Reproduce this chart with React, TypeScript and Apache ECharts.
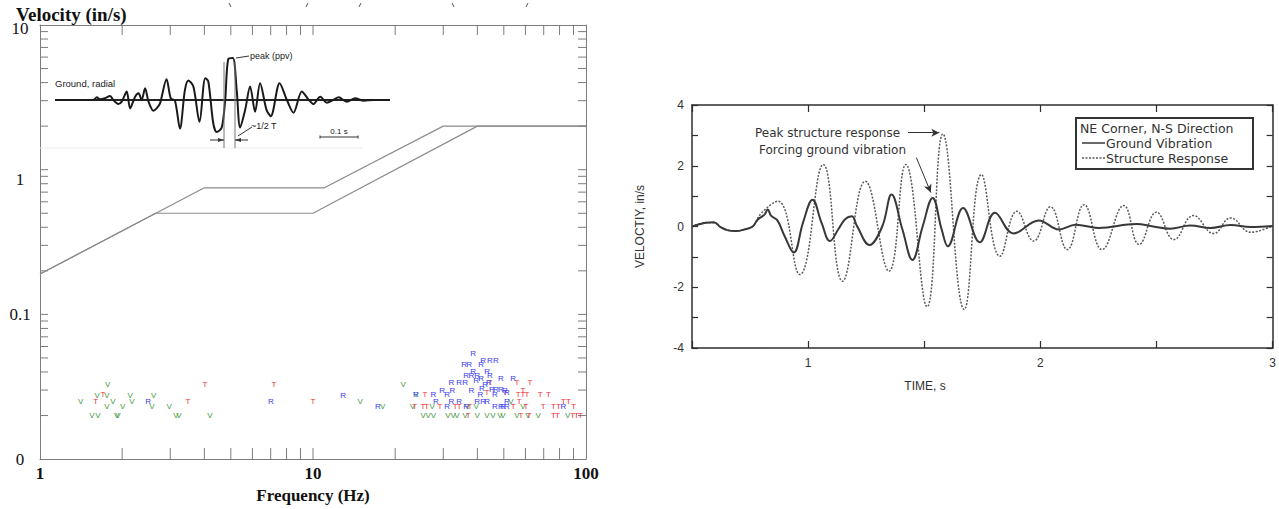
import React, { useEffect, useRef } from 'react';
import * as echarts from 'echarts';

// ---------------- Left chart data ----------------
const xTickValues = [2, 3, 4, 5, 6, 7, 8, 9, 10, 20, 30, 40, 50, 60, 70, 80, 90];
const yTickValues = [
  0.02, 0.03, 0.04, 0.05, 0.06, 0.07, 0.08, 0.09, 0.1,
  0.2, 0.3, 0.4, 0.5, 0.6, 0.7, 0.8, 0.9, 1,
  2, 3, 4, 5, 6, 7, 8, 9,
];
const yTickLabels: Record<string, string> = { '10': '{a|10}', '1': '{b|1}', '0.1': '{c|0.1}', '0.01': '{c|0}' };

const upperCriterion = [[1, 0.19], [4, 0.75], [11, 0.75], [30, 2], [100, 2]];
const lowerCriterion = [[1, 0.19], [2.65, 0.5], [10, 0.5], [40, 2], [100, 2]];

const tPoints = [
  [1.6, 0.025], [1.7, 0.028], [4.02, 0.033], [3.48, 0.025], [7.19, 0.033], [10.0, 0.025],
  [25.7, 0.028], [44.5, 0.034], [55.9, 0.034], [62.3, 0.034], [43.4, 0.029], [50.5, 0.029],
  [58.8, 0.03], [56.4, 0.028], [58.8, 0.028], [60.8, 0.028], [67.9, 0.028], [72.8, 0.028],
  [56.9, 0.025], [82.7, 0.025], [86.3, 0.025], [25.3, 0.023], [26.1, 0.023], [29.2, 0.023],
  [33.2, 0.023], [34.3, 0.023], [37.6, 0.023], [54.1, 0.023], [60.3, 0.023], [69.7, 0.023],
  [76.0, 0.023], [79.3, 0.023], [90.1, 0.023], [37.0, 0.02], [57.8, 0.02], [61.8, 0.02],
  [76.0, 0.02], [78.6, 0.02], [89.3, 0.02], [92.3, 0.02], [95.5, 0.02], [23.6, 0.023],
];
const vPoints = [
  [1.41, 0.025], [1.77, 0.033], [1.62, 0.0275], [1.76, 0.0275], [1.85, 0.025], [1.76, 0.023],
  [1.55, 0.02], [1.63, 0.02], [1.91, 0.02], [1.93, 0.02], [2.01, 0.023], [2.14, 0.0275],
  [2.17, 0.025], [2.57, 0.023], [2.61, 0.0275], [2.97, 0.023], [3.15, 0.02], [3.23, 0.02],
  [4.19, 0.02], [14.9, 0.025], [18.0, 0.023], [21.4, 0.033], [23.8, 0.028], [23.2, 0.023],
  [27.3, 0.023], [36.7, 0.023], [39.6, 0.023], [53.1, 0.025], [58.8, 0.023], [25.3, 0.02],
  [26.4, 0.02], [27.6, 0.02], [31.2, 0.02], [32.6, 0.02], [33.7, 0.02], [36.1, 0.02],
  [39.9, 0.02], [43.4, 0.02], [45.6, 0.02], [48.4, 0.02], [49.6, 0.02], [55.9, 0.02],
  [61.3, 0.02], [66.8, 0.02], [85.6, 0.02],
];
const rPoints = [
  [2.49, 0.025], [7.01, 0.025], [12.9, 0.0275], [17.3, 0.023], [23.8, 0.028],
  [38.6, 0.054], [35.8, 0.045], [37.3, 0.045], [42.0, 0.048], [44.5, 0.048], [46.8, 0.048],
  [41.3, 0.045], [38.6, 0.0406], [43.4, 0.0406], [36.4, 0.038], [38.0, 0.038], [39.9, 0.038],
  [44.5, 0.038], [36.1, 0.034], [41.3, 0.036], [42.7, 0.033], [39.6, 0.035], [32.1, 0.034],
  [34.3, 0.034], [44.1, 0.034], [48.8, 0.036], [54.1, 0.036], [29.7, 0.03], [32.4, 0.03],
  [38.0, 0.03], [41.6, 0.031], [45.2, 0.0305], [46.8, 0.0305], [48.8, 0.0305], [50.5, 0.03],
  [31.0, 0.028], [27.6, 0.028], [41.0, 0.028], [46.4, 0.028], [51.3, 0.029], [28.2, 0.025],
  [32.1, 0.025], [34.3, 0.025], [39.9, 0.025], [42.0, 0.025], [43.4, 0.025], [51.3, 0.025],
  [31.0, 0.023], [36.4, 0.023], [46.4, 0.023], [48.8, 0.023], [49.6, 0.023], [51.3, 0.023],
  [82.7, 0.023],
];

// inset waveform (time in ms, amplitude relative to peak)
const insetTime = [0, 100, 109, 117, 130, 144, 152, 165, 174, 187, 196, 209, 218, 226, 235, 244, 257, 265, 274, 291, 302, 313, 326, 339, 348, 361, 377, 392, 400, 413, 422, 435, 444, 452, 464, 474, 483, 496, 509, 522, 535, 552, 563, 586, 605, 622, 644, 661, 674, 692, 709, 726, 740, 761, 783, 805, 831, 874];
const insetAmp = [0, 0, 0.064, 0.016, 0.04, 0.096, 0, -0.096, -0.04, 0.2, -0.2, 0.08, 0.16, 0, 0.28, -0.04, -0.256, -0.2, -0.08, 0.496, 0.04, -0.016, -0.68, 0.24, 0.464, 0.32, -0.52, 0.52, 0.44, -0.56, -0.76, -0.656, 0, 0.976, 1.0, 0.24, -0.656, -0.24, 0.32, -0.28, 0.4, -0.24, -0.384, 0.4, 0, -0.304, 0.2, 0.016, -0.096, 0.08, -0.064, 0, 0.064, -0.04, 0.04, -0.016, 0, 0];

// ---------------- Right chart data ----------------
const groundTime = [0.5, 0.558, 0.594, 0.623, 0.652, 0.688, 0.725, 0.761, 0.783, 0.812, 0.826, 0.841, 0.867, 0.899, 0.938, 0.978, 1.019, 1.058, 1.094, 1.13, 1.159, 1.188, 1.21, 1.264, 1.319, 1.359, 1.406, 1.449, 1.493, 1.536, 1.575, 1.601, 1.667, 1.739, 1.804, 1.884, 1.993, 2.08, 2.152, 2.25, 2.413, 2.486, 2.558, 2.645, 2.732, 2.819, 2.906, 3.0];
const groundVel = [0, 0.12, 0.14, -0.02, -0.12, -0.15, -0.1, 0, 0.23, 0.39, 0.56, 0.35, 0.21, -0.32, -0.86, 0.13, 0.88, 0.12, -0.48, -0.09, 0.24, 0.34, 0.02, -0.61, 0, 1.05, -0.1, -1.1, 0, 0.94, -0.1, -0.65, 0.61, -0.52, 0.45, -0.23, 0.2, -0.1, 0.06, -0.05, 0.08, 0, -0.07, 0.03, -0.05, 0.05, -0.02, 0.02];

const structTime = [0.5, 0.558, 0.594, 0.623, 0.652, 0.688, 0.725, 0.761, 0.8, 0.87, 0.964, 1.065, 1.148, 1.246, 1.348, 1.42, 1.512, 1.58, 1.672, 1.746, 1.826, 1.899, 1.971, 2.043, 2.116, 2.188, 2.265, 2.359, 2.425, 2.5, 2.575, 2.659, 2.746, 2.819, 2.906, 3.0];
const structVel = [0, 0.12, 0.12, -0.02, -0.12, -0.15, -0.1, 0, 0.45, 0.83, -1.58, 2.04, -1.8, 1.49, -1.47, 2.04, -2.64, 3.05, -2.73, 1.71, -0.98, 0.5, -0.48, 0.65, -0.76, 0.72, -0.76, 0.69, -0.59, 0.47, -0.43, 0.36, -0.23, 0.28, -0.19, 0.03];

const serif = '"Liberation Serif", "Times New Roman", serif';
const sans = '"Liberation Sans", Arial, Helvetica, sans-serif';
const wideSans = '"DejaVu Sans", Verdana, sans-serif';
const axisGray = '#7c7c7c';
const darkAxis = '#2e2e2e';

function letterSeries(pts: number[][], letter: string, color: string) {
  return {
    type: 'custom',
    xAxisIndex: 0,
    yAxisIndex: 0,
    data: pts,
    silent: true,
    z: 5,
    renderItem: (params: any, api: any) => {
      const p = api.coord([api.value(0), api.value(1)]);
      return {
        type: 'text',
        x: p[0],
        y: p[1],
        style: {
          text: letter,
          fill: color,
          font: '8px ' + sans,
          align: 'center',
          verticalAlign: 'middle',
        },
      };
    },
  };
}

function buildOption() {
  const zip = (a: number[], b: number[]) => a.map((v, i) => [v, b[i]]);
  const labelBase = { fontFamily: serif, fontSize: 17, color: '#111' };
  return {
    animation: false,
    backgroundColor: '#ffffff',
    title: {
      text: 'Velocity (in/s)',
      left: 11,
      top: 0,
      textStyle: { fontFamily: serif, fontWeight: 'bold', fontSize: 19, color: '#111' },
    },
    grid: [
      { left: 40, top: 25, width: 546, height: 441 },
      { left: 55, top: 58, width: 335, height: 84 },
      { left: 692, top: 105, width: 584, height: 243 },
    ],
    xAxis: [
      {
        gridIndex: 0, type: 'log', logBase: 10, min: 1, max: 100, position: 'bottom',
        axisLine: { lineStyle: { color: axisGray, width: 1 } },
        axisTick: { show: false }, splitLine: { show: false },
        axisLabel: { fontFamily: serif, fontWeight: 'bold', fontSize: 17, color: '#111', margin: 6 },
        name: 'Frequency (Hz)', nameLocation: 'middle', nameGap: 25,
        nameTextStyle: { fontFamily: serif, fontWeight: 'bold', fontSize: 17, color: '#111' },
      },
      {
        gridIndex: 0, type: 'log', logBase: 10, min: 1, max: 100, position: 'top',
        axisLine: { lineStyle: { color: axisGray, width: 1 } },
        axisTick: { show: false }, splitLine: { show: false }, axisLabel: { show: false },
      },
      { gridIndex: 1, type: 'value', min: 0, max: 874, show: false },
      {
        gridIndex: 2, type: 'value', min: 0.5, max: 3, interval: 0.5, position: 'bottom',
        axisLine: { onZero: false, lineStyle: { color: darkAxis, width: 1.5 } },
        axisTick: { inside: true, length: 7, lineStyle: { color: darkAxis, width: 1.2 } },
        splitLine: { show: false },
        axisLabel: {
          fontFamily: sans, fontSize: 12, color: '#333', margin: 9,
          formatter: (v: number) => (Math.abs(v - Math.round(v)) < 1e-6 ? String(Math.round(v)) : ''),
        },
      },
      {
        gridIndex: 2, type: 'value', min: 0.5, max: 3, interval: 0.5, position: 'top',
        axisLine: { onZero: false, lineStyle: { color: darkAxis, width: 1.5 } },
        axisTick: { inside: true, length: 7, lineStyle: { color: darkAxis, width: 1.2 } },
        splitLine: { show: false }, axisLabel: { show: false },
      },
    ],
    yAxis: [
      {
        gridIndex: 0, type: 'log', logBase: 10, min: 0.01, max: 10, position: 'left',
        axisLine: { show: true, lineStyle: { color: axisGray, width: 1 } },
        axisTick: { show: false }, splitLine: { show: false },
        axisLabel: {
          ...labelBase, margin: 20, align: 'center',
          rich: {
            a: { ...labelBase, padding: [6, 0, 0, 0] },
            b: { ...labelBase, padding: [20, 0, 0, 0] },
            c: { ...labelBase },
          },
          formatter: (v: number) => {
            const k = v >= 5 ? '10' : v >= 0.5 ? '1' : v >= 0.05 ? '0.1' : '0.01';
            return yTickLabels[k];
          },
        },
      },
      {
        gridIndex: 0, type: 'log', logBase: 10, min: 0.01, max: 10, position: 'right',
        axisLine: { show: true, lineStyle: { color: axisGray, width: 1 } },
        axisTick: { show: false }, splitLine: { show: false }, axisLabel: { show: false },
      },
      { gridIndex: 1, type: 'value', min: -1, max: 1, show: false },
      {
        gridIndex: 2, type: 'value', min: -4, max: 4, interval: 1, position: 'left',
        axisLine: { show: true, onZero: false, lineStyle: { color: darkAxis, width: 1.5 } },
        axisTick: { inside: true, length: 6, lineStyle: { color: darkAxis, width: 1.2 } },
        splitLine: { show: false },
        axisLabel: {
          fontFamily: sans, fontSize: 12, color: '#333', margin: 8,
          formatter: (v: number) => (Math.round(v) % 2 === 0 ? String(Math.round(v)) : ''),
        },
        name: 'VELOCTIY, in/s', nameLocation: 'middle', nameGap: 46, nameRotate: 90,
        nameTextStyle: { fontFamily: sans, fontSize: 12, color: '#333' },
      },
      {
        gridIndex: 2, type: 'value', min: -4, max: 4, interval: 1, position: 'right',
        axisLine: { show: true, onZero: false, lineStyle: { color: darkAxis, width: 1.5 } },
        axisTick: { inside: true, length: 6, lineStyle: { color: darkAxis, width: 1.2 } },
        splitLine: { show: false }, axisLabel: { show: false },
      },
    ],
    series: [
      {
        type: 'line', xAxisIndex: 0, yAxisIndex: 0, data: upperCriterion, symbol: 'none', silent: true,
        lineStyle: { color: '#8c8c8c', width: 1.2 },
      },
      {
        type: 'line', xAxisIndex: 0, yAxisIndex: 0, data: lowerCriterion, symbol: 'none', silent: true,
        lineStyle: { color: '#8c8c8c', width: 1.2 },
      },
      {
        type: 'custom', xAxisIndex: 0, yAxisIndex: 0, silent: true,
        data: xTickValues.map((v) => [v, 1]),
        renderItem: (params: any, api: any) => {
          const x = api.coord([api.value(0), 1])[0];
          const cs = params.coordSys;
          const st = { stroke: axisGray, lineWidth: 1 };
          return {
            type: 'group',
            children: [
              { type: 'line', shape: { x1: x, y1: cs.y + cs.height, x2: x, y2: cs.y + cs.height - 11 }, style: st },
              { type: 'line', shape: { x1: x, y1: cs.y, x2: x, y2: cs.y + 10 }, style: st },
            ],
          };
        },
      },
      {
        type: 'custom', xAxisIndex: 0, yAxisIndex: 0, silent: true,
        data: yTickValues.map((v) => [10, v]),
        renderItem: (params: any, api: any) => {
          const y = api.coord([10, api.value(1)])[1];
          const cs = params.coordSys;
          const st = { stroke: axisGray, lineWidth: 1 };
          return {
            type: 'group',
            children: [
              { type: 'line', shape: { x1: cs.x, y1: y, x2: cs.x + 8, y2: y }, style: st },
              { type: 'line', shape: { x1: cs.x + cs.width - 8, y1: y, x2: cs.x + cs.width, y2: y }, style: st },
            ],
          };
        },
      },
      letterSeries(vPoints, 'V', '#3f9a3f'),
      letterSeries(tPoints, 'T', '#ee3030'),
      letterSeries(rPoints, 'R', '#3a3af0'),
      {
        type: 'line', xAxisIndex: 2, yAxisIndex: 2, data: [[0, 0], [874, 0]], symbol: 'none', silent: true,
        lineStyle: { color: '#222', width: 2 },
      },
      {
        type: 'line', xAxisIndex: 2, yAxisIndex: 2, data: zip(insetTime, insetAmp), symbol: 'none', silent: true,
        smooth: 0.3, lineStyle: { color: '#1a1a1a', width: 2 },
      },
      {
        type: 'line', xAxisIndex: 3, yAxisIndex: 3, data: zip(structTime, structVel), symbol: 'none', silent: true,
        smooth: 0.45, lineStyle: { color: '#5a5a5a', width: 1.5, type: [2, 1.5] },
      },
      {
        type: 'line', xAxisIndex: 3, yAxisIndex: 3, data: zip(groundTime, groundVel), symbol: 'none', silent: true,
        smooth: 0.4, lineStyle: { color: '#383838', width: 2 },
        markLine: {
          silent: true,
          symbol: ['none', 'arrow'],
          symbolSize: [6, 8],
          label: { show: false },
          lineStyle: { color: '#333', width: 1, type: 'solid' },
          data: [
            [{ coord: [1.43, 3.09] }, { coord: [1.565, 3.09] }],
            [{ coord: [1.466, 2.27] }, { coord: [1.528, 1.12] }],
          ],
        },
      },
    ],
    graphic: [
      // inset annotations
      { type: 'line', z: 50, shape: { x1: 40, y1: 148, x2: 363, y2: 148 }, style: { stroke: '#ececec', lineWidth: 1 } },
      { type: 'text', z: 50, style: { text: 'Ground, radial', x: 55, y: 83, font: '9.5px ' + sans, fill: '#222', textVerticalAlign: 'middle' } },
      { type: 'line', z: 50, shape: { x1: 236, y1: 58, x2: 249, y2: 56 }, style: { stroke: '#333', lineWidth: 1 } },
      { type: 'text', z: 50, style: { text: 'peak (ppv)', x: 250, y: 56, font: '9px ' + sans, fill: '#222', textVerticalAlign: 'middle' } },
      { type: 'line', z: 50, shape: { x1: 224, y1: 62, x2: 224, y2: 148 }, style: { stroke: '#777', lineWidth: 1 } },
      { type: 'line', z: 50, shape: { x1: 235, y1: 62, x2: 235, y2: 148 }, style: { stroke: '#777', lineWidth: 1 } },
      { type: 'line', z: 50, shape: { x1: 210, y1: 140, x2: 224, y2: 140 }, style: { stroke: '#333', lineWidth: 1 } },
      { type: 'polygon', z: 50, shape: { points: [[224, 140], [218, 138], [218, 142]] }, style: { fill: '#333' } },
      { type: 'line', z: 50, shape: { x1: 248, y1: 140, x2: 235, y2: 140 }, style: { stroke: '#333', lineWidth: 1 } },
      { type: 'polygon', z: 50, shape: { points: [[235, 140], [241, 138], [241, 142]] }, style: { fill: '#333' } },
      { type: 'line', z: 50, shape: { x1: 252, y1: 127, x2: 238, y2: 136 }, style: { stroke: '#333', lineWidth: 1 } },
      { type: 'text', z: 50, style: { text: '~1/2 T', x: 251, y: 126, font: '9px ' + sans, fill: '#222', textVerticalAlign: 'middle' } },
      { type: 'text', z: 50, style: { text: '0.1 s', x: 339, y: 131, font: '8px ' + sans, fill: '#222', textAlign: 'center', textVerticalAlign: 'middle' } },
      { type: 'line', z: 50, shape: { x1: 320, y1: 137, x2: 358, y2: 137 }, style: { stroke: '#333', lineWidth: 1 } },
      { type: 'line', z: 50, shape: { x1: 320, y1: 135.5, x2: 320, y2: 138.5 }, style: { stroke: '#333', lineWidth: 1 } },
      { type: 'line', z: 50, shape: { x1: 358, y1: 135.5, x2: 358, y2: 138.5 }, style: { stroke: '#333', lineWidth: 1 } },
      // scan marks along the top edge
      { type: 'line', z: 50, shape: { x1: 229, y1: 3, x2: 231, y2: 7 }, style: { stroke: '#555', lineWidth: 1 } },
      { type: 'line', z: 50, shape: { x1: 306, y1: 7, x2: 308, y2: 3 }, style: { stroke: '#555', lineWidth: 1 } },
      { type: 'line', z: 50, shape: { x1: 359, y1: 7, x2: 361, y2: 3 }, style: { stroke: '#555', lineWidth: 1 } },
      { type: 'line', z: 50, shape: { x1: 452, y1: 3, x2: 454, y2: 7 }, style: { stroke: '#555', lineWidth: 1 } },
      { type: 'line', z: 50, shape: { x1: 526, y1: 7, x2: 528, y2: 3 }, style: { stroke: '#555', lineWidth: 1 } },
      // right chart annotations
      { type: 'text', z: 50, style: { text: 'Peak structure response', x: 755, y: 133, font: '12px ' + wideSans, fill: '#333', textVerticalAlign: 'middle' } },
      { type: 'text', z: 50, style: { text: 'Forcing ground vibration', x: 759, y: 150, font: '12px ' + wideSans, fill: '#333', textVerticalAlign: 'middle' } },
      { type: 'text', z: 50, style: { text: 'TIME, s', x: 925, y: 386, font: '12px ' + sans, fill: '#333', textAlign: 'center', textVerticalAlign: 'middle' } },
      // legend box
      { type: 'rect', z: 50, shape: { x: 1076, y: 118, width: 177, height: 51 }, style: { fill: '#fff', stroke: '#333', lineWidth: 2 } },
      { type: 'text', z: 51, style: { text: 'NE Corner, N-S Direction', x: 1080, y: 128, font: '12.5px ' + wideSans, fill: '#333', textVerticalAlign: 'middle' } },
      { type: 'line', z: 51, shape: { x1: 1082, y1: 143, x2: 1105, y2: 143 }, style: { stroke: '#383838', lineWidth: 1.5 } },
      { type: 'text', z: 51, style: { text: 'Ground Vibration', x: 1106, y: 143, font: '12.5px ' + wideSans, fill: '#333', textVerticalAlign: 'middle' } },
      { type: 'line', z: 51, shape: { x1: 1082, y1: 158, x2: 1105, y2: 158 }, style: { stroke: '#5a5a5a', lineWidth: 1.5, lineDash: [2, 1.5] } },
      { type: 'text', z: 51, style: { text: 'Structure Response', x: 1106, y: 158, font: '12.5px ' + wideSans, fill: '#333', textVerticalAlign: 'middle' } },
    ],
  };
}

export default function App() {
  const ref = useRef<HTMLDivElement>(null);
  useEffect(() => {
    if (!ref.current) return;
    const chart = echarts.init(ref.current, undefined, { renderer: 'svg' });
    chart.setOption(buildOption() as any);
    return () => chart.dispose();
  }, []);
  return (
    <div
      ref={ref}
      style={{ position: 'absolute', left: 0, top: 0, width: 1279, height: 509, background: '#fff' }}
    />
  );
}
